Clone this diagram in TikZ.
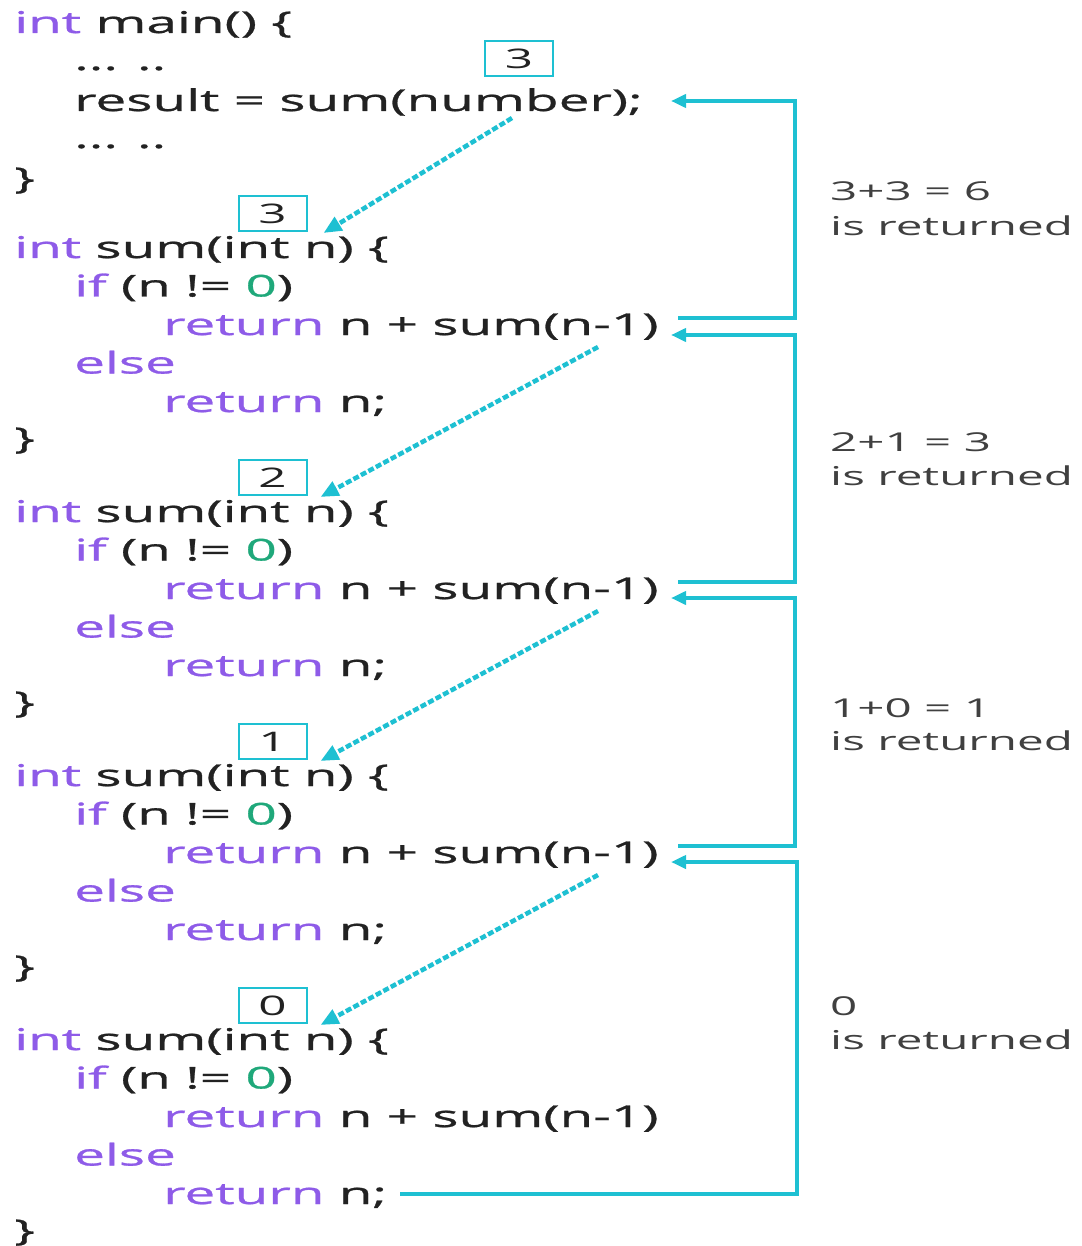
\documentclass[tikz,border=0pt]{standalone}
\usepackage{fontspec}
\setmainfont[FakeStretch=1.83]{Open Sans}
\newfontfamily\codefont[FakeStretch=1.83,FakeBold=0.9]{Open Sans}
\usetikzlibrary{arrows.meta}
\definecolor{kwcol}{HTML}{8E5BE8}
\definecolor{numcol}{HTML}{1FA87A}
\definecolor{linkcol}{HTML}{1EC0D2}
\definecolor{codecol}{HTML}{222222}
\definecolor{notecol}{HTML}{404040}
\newcommand{\kw}[1]{\textcolor{kwcol}{#1}}
\newcommand{\lit}[1]{\textcolor{numcol}{#1}}
\tikzset{
  codeline/.style={anchor=base west, inner sep=0pt, text=codecol,
    font=\codefont\fontsize{30}{36}\selectfont},
  argbox/.style={draw=linkcol, line width=2pt, minimum width=68pt,
    minimum height=35pt, inner sep=0pt, text=codecol,
    font=\fontsize{27}{32}\selectfont},
  note/.style={anchor=base west, inner sep=0pt, text=notecol,
    font=\fontsize{26}{32}\selectfont},
  callarrow/.style={draw=linkcol, line width=4.5pt,
    dash pattern=on 6pt off 2.5pt,
    -{Triangle[length=18pt,width=15pt]}},
  retarrow/.style={draw=linkcol, line width=4.5pt,
    -{Triangle[length=15pt,width=13pt]}}
}
\begin{document}
\begin{tikzpicture}[x=1pt,y=-1pt]
\useasboundingbox (0,0) rectangle (1081,1246);

% main()
\node[codeline] (m1) at (14,33)  {\kw{int} main() \{};
\node[codeline] (m2) at (74,70)  {... ..};
\node[codeline] (m3) at (74,111) {result = sum(number);};
\node[codeline] (m4) at (74,148) {... ..};
\node[codeline] (m5) at (14,189) {\}};
\node[argbox] (b0) at (519,59) {3};

% four activations of sum()
\foreach \k/\v in {1/3,2/2,3/1,4/0} {
  \pgfmathsetmacro{\B}{258+264*(\k-1)}
  \node[codeline] (s\k a) at (14,\B)       {\kw{int} sum(int n) \{};
  \node[codeline] (s\k b) at (74,\B+38.5)  {\kw{if} (n != \lit{0})};
  \node[codeline] (s\k c) at (163,\B+77)   {\kw{return} n + sum(n-1)};
  \node[codeline] (s\k d) at (74,\B+115.5) {\kw{else}};
  \node[codeline] (s\k e) at (163,\B+154)  {\kw{return} n;};
  \node[codeline] (s\k f) at (14,\B+191) {\}};
  \node[argbox] (b\k) at (272.5,\B-44.5) {\v};
}

% return value notes
\node[note] (n1a) at (830,201)  {3+3 = 6};
\node[note] (n1b) at (830,236)  {is returned};
\node[note] (n2a) at (830,451)  {2+1 = 3};
\node[note] (n2b) at (830,485)  {is returned};
\node[note] (n3a) at (830,717)  {1+0 = 1};
\node[note] (n3b) at (830,750)  {is returned};
\node[note] (n4a) at (830,1015) {0};
\node[note] (n4b) at (830,1049) {is returned};

% call arrows
\coordinate (c0) at (512,118);
\coordinate (c1) at (598,347);
\coordinate (c2) at (598,611);
\coordinate (c3) at (598,875);
\draw[callarrow] (c0) -- ([xshift=16pt,yshift=-1pt]b1.south east);
\draw[callarrow] (c1) -- ([xshift=13pt,yshift=-1pt]b2.south east);
\draw[callarrow] (c2) -- ([xshift=13pt,yshift=-1pt]b3.south east);
\draw[callarrow] (c3) -- ([xshift=13pt,yshift=-1pt]b4.south east);

% return paths
\coordinate (o1) at (678,318);  \coordinate (i0) at (671,101);
\coordinate (o2) at (678,582);  \coordinate (i1) at (671,335);
\coordinate (o3) at (678,846);  \coordinate (i2) at (671,598);
\coordinate (o4) at (400,1194); \coordinate (i3) at (671,862);
\draw[retarrow] (o1) -- (795,318) -- (795,101) -- (i0);
\draw[retarrow] (o2) -- (795,582) -- (795,335) -- (i1);
\draw[retarrow] (o3) -- (795,846) -- (795,598) -- (i2);
\draw[retarrow] (o4) -- (797,1194) -- (797,862) -- (i3);
\end{tikzpicture}
\end{document}
